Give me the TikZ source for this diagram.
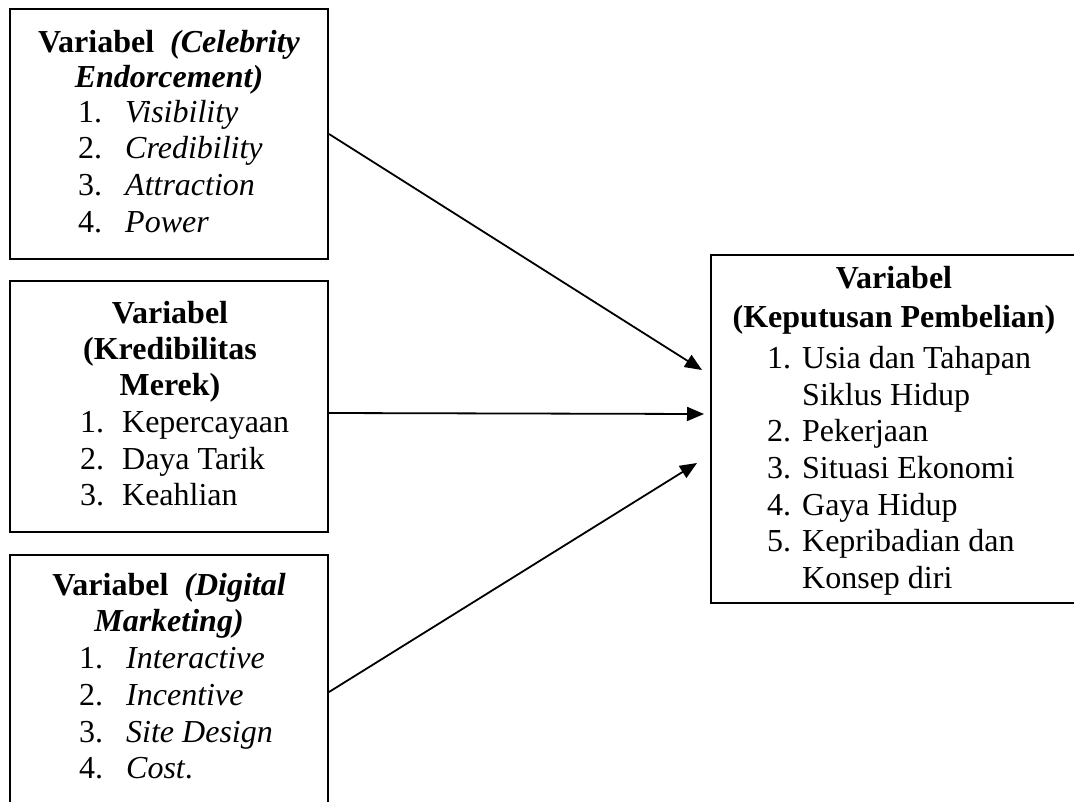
\documentclass[tikz,border=0pt]{standalone}
\usepackage{fontspec}
\setmainfont{Liberation Serif}
\usetikzlibrary{arrows.meta}
\tikzset{
  box/.style={draw=black, line width=2pt, rectangle, inner sep=0pt, fill=none},
  txt/.style={inner sep=0pt, anchor=base west, font=\fontsize{32pt}{36.7pt}\selectfont},
  head/.style={inner sep=0pt, anchor=base, font=\fontsize{32pt}{36.7pt}\selectfont\bfseries},
  conn/.style={line width=1.8pt, -{Triangle[length=17pt,width=14pt]}}
}
\begin{document}
\begin{tikzpicture}[x=1pt,y=-1pt]
\clip (0,0) rectangle (1074,801);
\fill[white] (0,0) rectangle (1074,801);
% boxes
\node[box, minimum width=318pt, minimum height=250pt] (b1) at (169,134) {};
\node[box, minimum width=318pt, minimum height=251pt] (b2) at (169,406.5) {};
\node[box, minimum width=318pt, minimum height=274pt] (b3) at (169,692) {};
\node[box, minimum width=369pt, minimum height=348pt] (rb) at (895.5,429) {};
% box 1
\node[head] (h1a) at (169,52) {Variabel\ \ \textit{(Celebrity}};
\node[head] (h1b) at (169,87) {\textit{Endorcement)}};
\node[txt] (l1a) at (78,122) {\makebox[47pt][l]{1.}\textit{Visibility}};
\node[txt] (l1b) at (78,158) {\makebox[47pt][l]{2.}\textit{Credibility}};
\node[txt] (l1c) at (78,195) {\makebox[47pt][l]{3.}\textit{Attraction}};
\node[txt] (l1d) at (78,232) {\makebox[47pt][l]{4.}\textit{Power}};
% box 2
\node[head] (h2a) at (170,323) {Variabel};
\node[head] (h2b) at (170,359) {(Kredibilitas};
\node[head] (h2c) at (170,395) {Merek)};
\node[txt] (l2a) at (80,432) {\makebox[42pt][l]{1.}Kepercayaan};
\node[txt] (l2b) at (80,469) {\makebox[42pt][l]{2.}Daya Tarik};
\node[txt] (l2c) at (80,505) {\makebox[42pt][l]{3.}Keahlian};
% box 3
\node[head] (h3a) at (169,595) {Variabel\ \ \textit{(Digital}};
\node[head] (h3b) at (169,631) {\textit{Marketing)}};
\node[txt] (l3a) at (79,668) {\makebox[47pt][l]{1.}\textit{Interactive}};
\node[txt] (l3b) at (79,705) {\makebox[47pt][l]{2.}\textit{Incentive}};
\node[txt] (l3c) at (79,742) {\makebox[47pt][l]{3.}\textit{Site Design}};
\node[txt] (l3d) at (79,778) {\makebox[47pt][l]{4.}\textit{Cost}.};
% right box
\node[head] (h4a) at (894,288) {Variabel};
\node[head] (h4b) at (894,327) {(Keputusan Pembelian)};
\node[txt] (l4a) at (767,368) {\makebox[35pt][l]{1.}Usia dan Tahapan};
\node[txt] (l4b) at (802,405) {Siklus Hidup};
\node[txt] (l4c) at (767,441) {\makebox[35pt][l]{2.}Pekerjaan};
\node[txt] (l4d) at (767,478) {\makebox[35pt][l]{3.}Situasi Ekonomi};
\node[txt] (l4e) at (767,515) {\makebox[35pt][l]{4.}Gaya Hidup};
\node[txt] (l4f) at (767,551) {\makebox[35pt][l]{5.}Kepribadian dan};
\node[txt] (l4g) at (802,588) {Konsep diri};
% connectors
\coordinate (t1) at ([shift={(-8pt,59pt)}]rb.west);
\coordinate (t2) at ([shift={(-6pt,15pt)}]rb.west);
\coordinate (t3) at ([shift={(-13pt,-34pt)}]rb.west);
\draw[conn] (b1.east) -- (t1);
\draw[conn] ([yshift=-6.5pt]b2.east) -- (t2);
\draw[conn] (b3.east) -- (t3);
\end{tikzpicture}
\end{document}
